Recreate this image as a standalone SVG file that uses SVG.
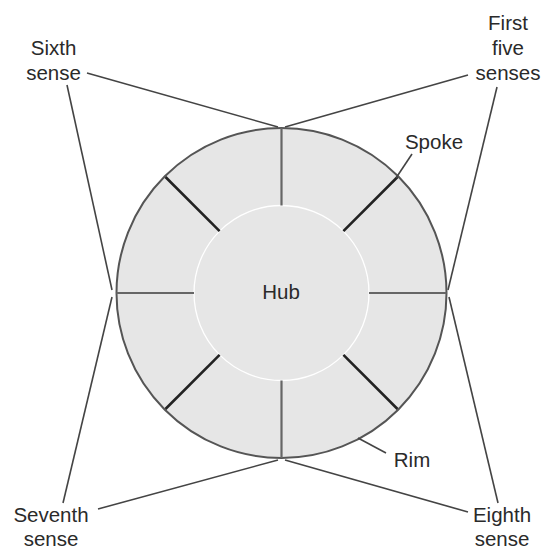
<svg xmlns="http://www.w3.org/2000/svg" width="544" height="549" viewBox="0 0 544 549">
<style>
text{font-family:"Liberation Sans",Arial,sans-serif;font-size:20.5px;fill:#2a2a2a;text-anchor:middle}
.c{stroke:#444;stroke-width:1.6;fill:none}
.sp{stroke:#666;stroke-width:2.2}
.sd{stroke:#222;stroke-width:2.6}
</style>
<rect width="544" height="549" fill="#fff"/>
<g id="wheel">
<circle id="rim" cx="281.5" cy="293" r="165" fill="#e6e6e6" stroke="#555" stroke-width="2"/>
<circle id="hub" cx="281.5" cy="293" r="87.5" fill="#e6e6e6" stroke="#fff" stroke-width="1.3"/>
<g id="spokes">
<line class="sp" x1="281.5" y1="205.5" x2="281.5" y2="128"/>
<line class="sp" x1="281.5" y1="380.5" x2="281.5" y2="458"/>
<line class="sp" x1="194" y1="293" x2="116.5" y2="293"/>
<line class="sp" x1="369" y1="293" x2="446.5" y2="293"/>
<line class="sd" x1="219.6" y1="231.1" x2="165.5" y2="177"/>
<line class="sd" x1="343.4" y1="231.1" x2="397.5" y2="177"/>
<line class="sd" x1="219.6" y1="354.9" x2="165.5" y2="409"/>
<line class="sd" x1="343.4" y1="354.9" x2="397.5" y2="409"/>
</g>
<text x="281" y="299">Hub</text>
</g>
<g id="sixth"><text x="53.5" y="55">Sixth</text><text x="53.5" y="80">sense</text></g>
<g id="first"><text x="508" y="30">First</text><text x="508" y="55">five</text><text x="508" y="80">senses</text></g>
<g id="seventh"><text x="51" y="522">Seventh</text><text x="51" y="546">sense</text></g>
<g id="eighth"><text x="502" y="522">Eighth</text><text x="502" y="546">sense</text></g>
<g id="spoke-label"><text x="434" y="149">Spoke</text></g>
<g id="rim-label"><text x="412" y="467">Rim</text></g>
<g id="connectors">
<line class="c" x1="87" y1="73" x2="278" y2="127"/>
<line class="c" x1="468" y1="75" x2="285" y2="127"/>
<line class="c" x1="67" y1="85" x2="112" y2="290"/>
<line class="c" x1="497" y1="87" x2="448" y2="290"/>
<line class="c" x1="63" y1="503" x2="112" y2="297"/>
<line class="c" x1="498" y1="503" x2="449" y2="297"/>
<line class="c" x1="98" y1="509" x2="278" y2="460"/>
<line class="c" x1="468" y1="512" x2="285" y2="460"/>
<line class="c" x1="412" y1="154" x2="396" y2="178"/>
<line class="c" x1="358" y1="438" x2="386" y2="453"/>
</g>
</svg>
